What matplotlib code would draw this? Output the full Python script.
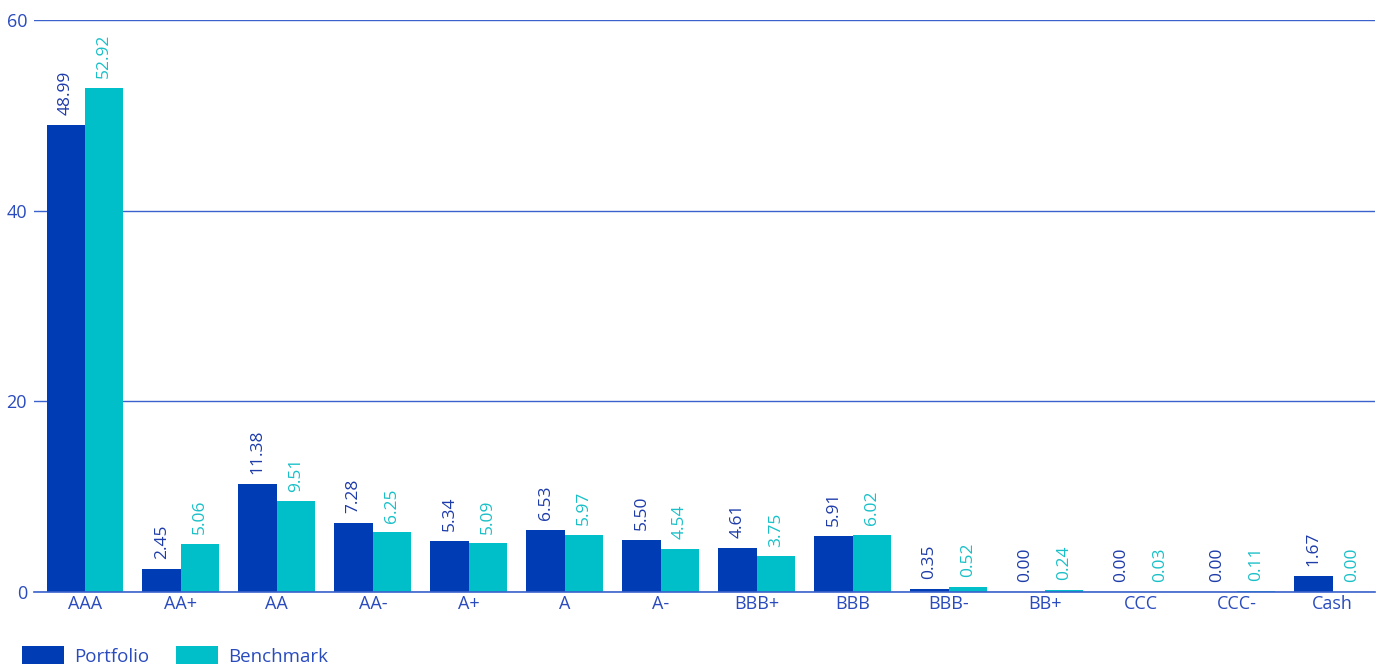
import matplotlib.pyplot as plt
import numpy as np

plt.rcParams['font.family'] = ['Open Sans', 'DejaVu Sans']

ratings = ["AAA", "AA+", "AA", "AA-", "A+", "A", "A-", "BBB+", "BBB",
           "BBB-", "BB+", "CCC", "CCC-", "Cash"]
portfolio = [48.99, 2.45, 11.38, 7.28, 5.34, 6.53, 5.50, 4.61, 5.91,
             0.35, 0.00, 0.00, 0.00, 1.67]
benchmark = [52.92, 5.06, 9.51, 6.25, 5.09, 5.97, 4.54, 3.75, 6.02,
             0.52, 0.24, 0.03, 0.11, 0.00]
yticks = [0, 20, 40, 60]

col_port = "#003cb4"
col_bench = "#00bfc8"
col_axis = "#3b62cc"
col_text = "#2a4bbd"

fig = plt.figure(figsize=(13.83, 6.68), dpi=100)
ax = fig.add_axes([0.0246, 0.1138, 0.9696, 0.8562])

x = np.arange(len(ratings))
w = 0.4
b1 = ax.bar(x - w / 2, portfolio, w, color=col_port, label="Portfolio")
b2 = ax.bar(x + w / 2, benchmark, w, color=col_bench, label="Benchmark")

for rect, v in zip(b1, portfolio):
    ax.annotate(f"{v:.2f}", (rect.get_x() + rect.get_width() / 2, v),
                xytext=(0, 7), textcoords="offset points", rotation=90,
                ha="center", va="bottom", fontsize=12.5, color="#1e3caa")
for rect, v in zip(b2, benchmark):
    ax.annotate(f"{v:.2f}", (rect.get_x() + rect.get_width() / 2, v),
                xytext=(0, 7), textcoords="offset points", rotation=90,
                ha="center", va="bottom", fontsize=12.5, color="#19c0c8")

ax.set_xlim(-0.53, len(ratings) - 0.56)
ax.set_ylim(0, 60)
ax.set_yticks(yticks)
ax.set_xticks(x)
ax.set_xticklabels(ratings)
ax.grid(axis="y", color=col_axis, linewidth=1)
ax.set_axisbelow(True)
for s in ["top", "right", "left"]:
    ax.spines[s].set_visible(False)
ax.spines["bottom"].set_color(col_axis)
ax.spines["bottom"].set_linewidth(1.2)
ax.tick_params(axis="both", length=0, labelsize=13, labelcolor=col_text)
ax.tick_params(axis="x", pad=2)
ax.tick_params(axis="y", pad=5)

leg = fig.legend(handles=[b1, b2], loc="lower left", bbox_to_anchor=(0.004, -0.022),
                 ncol=2, frameon=False, handlelength=2.2,
                 handleheight=1.1, columnspacing=1.45, handletextpad=0.55,
                 prop={"size": 13.5})
for t in leg.get_texts():
    t.set_color(col_text)

fig.savefig("out.png", dpi=100)
